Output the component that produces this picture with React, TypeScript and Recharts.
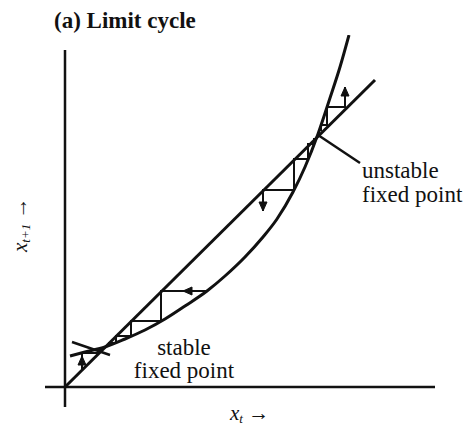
import { LineChart, Line, XAxis, YAxis, ReferenceLine, ReferenceDot, Customized } from "recharts";

// map curve x_{t+1} = f(x_t) (pixel-like units from the origin)
const curveU = [5, 20, 40, 60, 80, 100, 120, 142, 160, 180, 198, 212, 228, 240, 253, 265, 275, 284];
const curveV = [31, 35, 40, 48, 57, 68, 81, 96, 111, 130, 150, 168, 195, 220, 253, 289, 320, 352];

// 45 degree line x_{t+1} = x_t
const diagU = [0, 310];
const diagV = [0, 307];

// cobweb steps
const lowStepU = [17, 17, 34, 34, 38];
const lowStepV = [17, 34, 34, 38, 38];
const innerStepU = [142, 96, 96, 66, 66, 51, 51, 44, 44];
const innerStepV = [96, 96, 66, 66, 51, 51, 44, 44, 42];
const downStepU = [249, 249, 243, 243, 229, 229, 198, 198];
const downStepV = [249, 243, 243, 228, 228, 197, 197, 176];
const upStepU = [256, 256, 262, 262, 280, 280];
const upStepV = [256, 262, 262, 280, 280, 300];
const crossU = [7, 45];
const crossV = [45, 32];

// arrow heads
const arrowU = [118, 198, 280, 17];
const arrowV = [96, 176, 300, 31];
const arrowDir = ["left", "down", "up", "up"];

const pts = (us: number[], vs: number[]) => us.map((u, i) => ({ u, v: vs[i] }));

const Arrow = (props: any) => {
  const { cx, cy, dir } = props;
  if (cx == null || cy == null) return null;
  let d = "";
  if (dir === "up") d = `M${cx},${cy} L${cx - 4},${cy + 9} L${cx + 4},${cy + 9} Z`;
  if (dir === "down") d = `M${cx},${cy} L${cx - 4},${cy - 9} L${cx + 4},${cy - 9} Z`;
  if (dir === "left") d = `M${cx},${cy} L${cx + 9},${cy - 4} L${cx + 9},${cy + 4} Z`;
  return <path d={d} fill="#111" stroke="#111" strokeWidth={1} />;
};

const serif = { fontFamily: "'Liberation Serif', 'Times New Roman', serif" };

const Texts = () => (
  <g fill="#111">
    <text x={54} y={28} fontSize={23} fontWeight="bold" style={serif}>(a) Limit cycle</text>
    <text x={362} y={178} fontSize={23} style={serif}>unstable</text>
    <text x={362} y={202} fontSize={23} style={serif}>fixed point</text>
    <text x={184} y={355} fontSize={23} textAnchor="middle" style={serif}>stable</text>
    <text x={184} y={378} fontSize={23} textAnchor="middle" style={serif}>fixed point</text>
    <text x={230} y={420} fontSize={21} fontStyle="italic" style={serif}>
      x<tspan fontSize={13} dy={3}>t</tspan>
      <tspan fontStyle="normal" dy={-3}> →</tspan>
    </text>
    <text transform="translate(27,252) rotate(-90)" fontSize={21} fontStyle="italic" style={serif}>
      x<tspan fontSize={13} dy={3}>t+1</tspan>
      <tspan fontStyle="normal" dy={-3}> →</tspan>
    </text>
  </g>
);

const stroke = "#111";

export default function App() {
  return (
    <div style={{ position: "absolute", left: 0, top: 0, width: 468, height: 429, background: "#fff" }}>
      <LineChart width={468} height={429} margin={{ top: 35, right: 33, bottom: 22, left: 45 }}>
        <XAxis type="number" dataKey="u" domain={[-20, 370]} allowDataOverflow hide />
        <YAxis type="number" dataKey="v" domain={[-20, 352]} allowDataOverflow hide />
        <ReferenceLine segment={[{ x: -20, y: 0 }, { x: 370, y: 0 }]} stroke={stroke} strokeWidth={2.5} />
        <ReferenceLine segment={[{ x: 0, y: -20 }, { x: 0, y: 337 }]} stroke={stroke} strokeWidth={2.5} />
        <ReferenceLine segment={[{ x: 253, y: 252 }, { x: 295, y: 224 }]} stroke={stroke} strokeWidth={2.5} />
        <Line data={pts(diagU, diagV)} dataKey="v" type="linear" stroke={stroke} strokeWidth={3} dot={false} isAnimationActive={false} />
        <Line data={pts(curveU, curveV)} dataKey="v" type="monotone" stroke={stroke} strokeWidth={3} dot={false} isAnimationActive={false} />
        <Line data={pts(crossU, crossV)} dataKey="v" type="linear" stroke={stroke} strokeWidth={2.5} dot={false} isAnimationActive={false} />
        <Line data={pts(lowStepU, lowStepV)} dataKey="v" type="linear" stroke={stroke} strokeWidth={2} dot={false} isAnimationActive={false} />
        <Line data={pts(innerStepU, innerStepV)} dataKey="v" type="linear" stroke={stroke} strokeWidth={2} dot={false} isAnimationActive={false} />
        <Line data={pts(downStepU, downStepV)} dataKey="v" type="linear" stroke={stroke} strokeWidth={2} dot={false} isAnimationActive={false} />
        <Line data={pts(upStepU, upStepV)} dataKey="v" type="linear" stroke={stroke} strokeWidth={2} dot={false} isAnimationActive={false} />
        {arrowU.map((u, i) => (
          <ReferenceDot key={i} x={u} y={arrowV[i]} r={4} shape={(p: any) => <Arrow {...p} dir={arrowDir[i]} />} />
        ))}
        <Customized component={Texts} />
      </LineChart>
    </div>
  );
}
